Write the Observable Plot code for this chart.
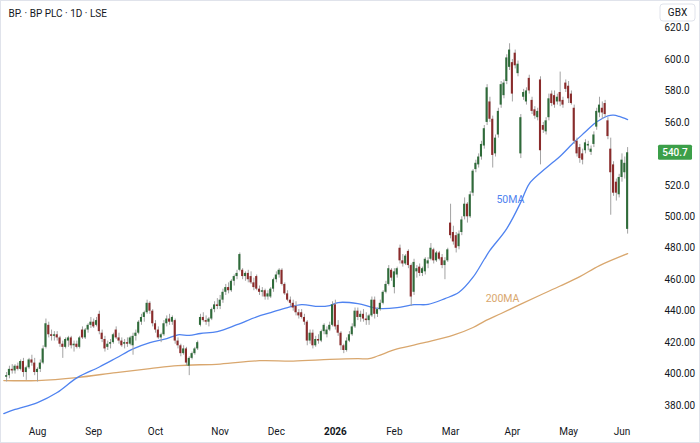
<!DOCTYPE html>
<html>
<head>
<meta charset="utf-8">
<script src="https://cdn.jsdelivr.net/npm/d3@7"></script>
<script src="https://cdn.jsdelivr.net/npm/@observablehq/plot@0.6"></script>
<style>
  html, body { margin: 0; padding: 0; background: #fff; }
  #chart svg { display: block; outline: 1px solid #e0e3eb; outline-offset: -1px; }
</style>
</head>
<body>
<div id="chart"></div>
<script>
// ---- Data ----
const title = "BP. · BP PLC · 1D · LSE";
const currency = "GBX";
const firstDayIndex = -11; // trading-day index of first candle (0 = 1 Aug 2025)

const opens = [398,399,403,402,405,403,408,401,404,409,407,
401,403,407,417,431,425,424,425,423,419,417,421,423,418,419,417,428,423,428,431,
433,431,438,426,422,417,419,420,428,423,421,419,420,419,418,424,426,433,436,439,445,440,
432,428,423,425,432,435,433,434,421,418,413,416,405,410,413,416,431,436,434,433,435,441,444,
443,447,452,455,453,459,462,466,466,462,464,462,458,462,454,452,453,449,
449,454,460,463,466,457,451,447,445,443,439,439,436,433,421,426,418,422,421,427,425,428,431,
444,431,426,418,415,421,425,430,440,436,438,435,434,437,447,438,441,445,452,457,466,
455,463,480,472,470,478,469,452,465,468,464,465,470,473,479,472,477,474,469,472,
496,490,488,481,490,500,508,500,515,530,533,538,545,560,573,562,540,552,571,577,586,595,
598,604,591,540,576,573,588,574,568,563,587,558,554,563,578,577,573,579,574,585,
583,578,569,548,544,540,542,545,541,546,557,566,569,572,561,543,533,522,514,
525,528,492];
const highs = [401,405,406,406,407,409,410,405,410,412,410,
404,409,418,435,433,428,427,427,424,421,423,424,424,421,421,424,430,429,432,436,
435,436,440,428,424,421,422,426,430,426,423,422,423,424,426,428,434,438,440,447,446,441,
434,430,426,434,437,438,437,435,423,419,418,417,411,414,417,421,438,439,437,436,442,446,448,
450,454,457,458,460,463,466,477,467,465,466,465,461,463,456,455,454,453,
455,461,465,467,467,458,453,449,447,446,441,441,438,434,428,428,424,425,428,432,430,433,446,
447,434,427,419,423,427,432,442,442,440,441,439,438,449,449,442,447,453,459,469,467,
467,468,482,476,476,479,470,473,469,470,468,474,474,483,480,478,478,476,474,480,
508,494,490,491,500,512,509,516,530,536,540,548,558,584,576,564,552,569,586,587,603,610,
600,606,599,565,581,582,590,576,570,569,589,560,563,578,580,580,578,592,576,587,
586,580,571,550,546,543,549,548,545,554,569,576,573,574,563,550,535,524,527,
540,538,544];
const lows = [395,397,400,400,402,402,398,396,403,405,399,
395,401,406,416,423,421,421,421,417,410,416,417,416,414,416,416,422,422,426,429,
429,430,425,420,414,415,416,419,422,419,417,416,417,418,412,421,425,431,433,438,438,430,
426,422,420,424,430,431,431,419,416,411,412,405,399,409,412,415,430,433,431,430,434,439,441,
441,445,450,451,452,456,460,465,460,459,458,457,453,453,450,449,447,447,
448,452,458,461,456,450,446,443,440,437,435,435,431,418,419,416,417,419,420,425,423,427,430,
428,424,415,413,414,420,424,429,434,433,433,431,431,436,435,436,440,444,451,456,459,
451,461,470,468,469,467,443,450,461,462,462,463,467,472,470,471,472,467,460,471,
486,482,477,479,488,498,496,499,513,528,531,536,543,558,560,531,538,550,569,575,584,593,
573,594,589,537,574,571,578,565,562,561,533,553,552,561,570,569,571,570,569,579,
572,571,546,538,534,533,540,542,539,544,555,563,562,563,549,501,513,510,512,
522,524,489];
const closes = [399,403,402,405,403,408,401,404,409,407,401,
403,407,416,432,425,424,425,423,419,417,422,423,418,419,417,423,423,428,431,433,
430,434,427,422,416,419,420,425,423,421,418,420,419,423,424,426,433,436,439,445,440,432,
428,423,425,432,435,433,436,421,418,413,416,407,410,413,416,420,436,434,433,435,441,444,443,
447,452,455,453,459,462,464,476,462,464,460,458,455,454,452,453,449,451,
454,460,463,466,457,451,447,445,442,439,437,436,433,421,426,418,422,421,427,431,428,431,444,
430,426,418,415,421,425,430,440,436,438,435,434,437,447,438,441,445,452,457,467,461,
465,467,472,470,475,469,449,471,467,464,467,473,472,480,472,477,473,469,472,479,
488,484,480,489,498,508,500,514,529,534,538,546,556,582,562,539,550,567,584,585,601,606,
578,596,597,563,579,580,580,567,564,567,542,555,561,575,572,571,576,573,571,581,
575,572,548,540,537,536,547,546,543,552,567,571,566,565,551,528,515,515,525,
536,534,540.7];

// moving averages, sampled along the drawn lines (trading-day index, price)
const ma50Index = [-12,-8,0,7,14,22,28,34,40,46,50,54,58,64,71,78,83,89,94,100,104,107,114,121,128,134,139,145,150,155,159,161,167,172,175,179,183,186,191,195,198,201,203,205,207,210];
const ma50Value = [374.9,377.5,381.9,388.3,397.6,404.5,410.2,416.0,420.0,422.6,425.0,424.6,425.8,427.0,431.4,436.4,439.1,442.3,444.2,443.0,443.6,445.5,444.8,441.8,442.2,444.1,444.3,448.0,452.0,461.6,473.0,478.6,492.5,509.3,521.0,528.0,534.0,538.5,547.5,554.0,559.0,562.5,564.2,564.6,563.8,561.8];
const ma200Index = [-12,0,14,28,40,50,65,79,91,104,114,118,121,128,138,148,155,159,165,172,179,186,193,200,210];
const ma200Value = [395.9,395.9,397.8,401.0,403.5,405.4,406.4,408.5,408.3,409.3,409.8,409.8,411.5,416.0,420.1,424.7,429.6,433.5,438.5,444.5,450.3,456.0,462.0,469.0,476.6];

const maLabels = ["50MA", "200MA"];
const maLabelIndex = [168.3, 165.5];
const maLabelPrice = [511, 448];

// axes
const monthIndex = [0,20,42,65,85,106,127,147,169,189,208];
const monthLabels = ["Aug","Sep","Oct","Nov","Dec","2026","Feb","Mar","Apr","May","Jun"];
const priceTicks = [380,400,420,440,460,480,500,520,560,580,600,620];

// ---- Build ----
const candles = closes.map((c, k) => ({
  i: firstDayIndex + k, open: opens[k], high: highs[k], low: lows[k], close: c
}));
const ma50 = ma50Index.map((i, k) => ({i, v: ma50Value[k]}));
const ma200 = ma200Index.map((i, k) => ({i, v: ma200Value[k]}));
const maText = maLabels.map((t, k) => ({t, i: maLabelIndex[k], v: maLabelPrice[k]}));
const monthLabelOf = new Map(monthIndex.map((d, k) => [d, monthLabels[k]]));

const UP = "#2f6b3a", DOWN = "#8a2b2b", WICK = "#a3a3a3";
const BLUE = "#4f83f0", TAN = "#d9a76e";
const lastClose = closes[closes.length - 1];

const chart = Plot.plot({
  width: 700,
  height: 443,
  marginLeft: 0,
  marginRight: 45,
  marginTop: 0,
  marginBottom: 23,
  style: {fontFamily: "Roboto, sans-serif", fontSize: "10px", color: "#131722", background: "#fff", overflow: "visible"},
  x: {type: "linear", domain: [-13.17, 219.93], axis: null, label: null},
  y: {type: "linear", domain: [370.5, 637.5], axis: null, label: null},
  marks: [
    Plot.line(ma200, {x: "i", y: "v", stroke: TAN, strokeWidth: 1.3, curve: "catmull-rom"}),
    Plot.line(ma50, {x: "i", y: "v", stroke: BLUE, strokeWidth: 1.3, curve: "catmull-rom"}),
    Plot.ruleX(candles, {x: "i", y1: "low", y2: "high", stroke: WICK, strokeWidth: 1}),
    Plot.rect(candles, {
      x1: d => d.i - 0.37, x2: d => d.i + 0.37,
      y1: d => Math.min(d.open, d.close) - (Math.abs(d.open - d.close) < 0.6 ? 0.35 : 0),
      y2: d => Math.max(d.open, d.close) + (Math.abs(d.open - d.close) < 0.6 ? 0.35 : 0),
      fill: d => d.close >= d.open ? UP : DOWN
    }),
    Plot.text(maText, {x: "i", y: "v", text: "t", fill: (d) => d.t === "50MA" ? BLUE : TAN, fontSize: 10.5}),
    Plot.axisY(priceTicks, {anchor: "right", tickSize: 0, tickPadding: 9, fontSize: 10, label: null,
      tickFormat: d => d >= 520 ? d.toFixed(1) : d.toFixed(2)}),
    Plot.axisX(monthIndex, {anchor: "bottom", tickSize: 0, tickPadding: 7, fontSize: 10, label: null,
      tickFormat: d => monthLabelOf.get(d)}),
    Plot.text([title], {frameAnchor: "top-left", dx: 8, dy: 13, textAnchor: "start", lineAnchor: "middle", fontSize: 10, fill: "#131722"})
  ]
});

document.getElementById("chart").appendChild(chart);

// decorations in the price-axis margin
const svg = d3.select(chart);
svg.selectAll("text").filter(function() { return d3.select(this).text() === "2026"; }).attr("font-weight", "bold");

const yy = chart.scale("y").apply(lastClose);
const g = svg.append("g");
g.append("rect").attr("x", 658).attr("y", yy - 7.5).attr("width", 34).attr("height", 15)
  .attr("rx", 1.5).attr("fill", "#3c9f49");
g.append("text").attr("x", 675).attr("y", yy).attr("dy", "0.35em").attr("text-anchor", "middle")
  .attr("fill", "#fff").attr("font-size", 10).attr("font-weight", 500).text(lastClose.toFixed(1));

const gb = svg.append("g");
gb.append("rect").attr("x", 660).attr("y", 4).attr("width", 35).attr("height", 17).attr("rx", 3)
  .attr("fill", "#fff").attr("stroke", "#e0e3eb");
gb.append("text").attr("x", 677.5).attr("y", 12.5).attr("dy", "0.35em").attr("text-anchor", "middle")
  .attr("fill", "#131722").attr("font-size", 10).text(currency);
</script>
</body>
</html>
